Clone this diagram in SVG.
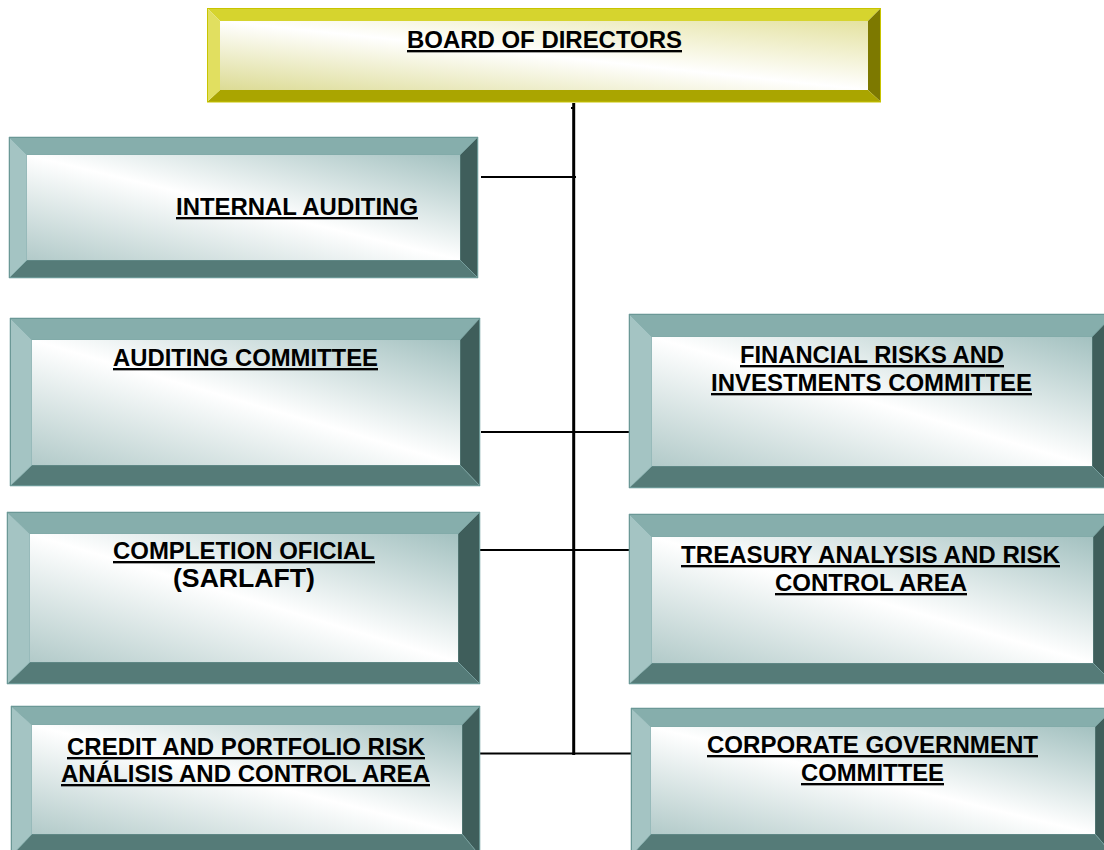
<svg xmlns="http://www.w3.org/2000/svg" width="1104" height="850" viewBox="0 0 1104 850">
<style>
.t{fill:#86aeac}.l{fill:#a4c4c3}.r{fill:#3f5e5b}.b{fill:#557b78}
.bev polygon{stroke:#7aa6a4;stroke-width:0.6}
.face{fill:url(#gT)}
.edge{fill:none;stroke:#6b9896;stroke-width:1}
.yt{fill:#d6d42e}.yl{fill:#e1df60}.yr{fill:#7d7900}.yb{fill:#aaa500}
.yface{fill:url(#gY)}
.yedge{fill:none;stroke:#c8c400;stroke-width:1}
text{font-family:"Liberation Sans",Arial,sans-serif;font-weight:bold;font-size:23.5px;fill:#000;text-anchor:middle}
.u{text-decoration:underline}
.conn line{stroke:#000}
</style>
<defs>
<linearGradient id="gT" x1="0" y1="1" x2="1" y2="0">
<stop offset="0" stop-color="#b2cac9"/>
<stop offset="0.5" stop-color="#ffffff"/>
<stop offset="1" stop-color="#a3c1c0"/>
</linearGradient>
<linearGradient id="gY" x1="0" y1="1" x2="1" y2="0">
<stop offset="0" stop-color="#dcdb94"/>
<stop offset="0.5" stop-color="#ffffff"/>
<stop offset="1" stop-color="#e4e2a0"/>
</linearGradient>
</defs>
<rect width="1104" height="850" fill="#fff"/>

<g id="connectors" class="conn">
<line x1="573.7" y1="103" x2="573.7" y2="755" stroke-width="3"/>
<line x1="481" y1="177" x2="576" y2="177" stroke-width="2"/>
<line x1="481" y1="432" x2="629" y2="432" stroke-width="2"/>
<line x1="480" y1="550" x2="629" y2="550" stroke-width="2"/>
<line x1="480" y1="753.5" x2="631" y2="753.5" stroke-width="2"/>
<line x1="571" y1="108" x2="574" y2="108" stroke-width="2"/>
</g>

<g id="board">
<polygon class="yt" points="207,8 881,8 868,21 220,21"/>
<polygon class="yr" points="881,8 881,102 868,90 868,21"/>
<polygon class="yb" points="207,102 881,102 868,90 220,90"/>
<polygon class="yl" points="207,8 220,21 220,90 207,102"/>
<rect class="yface" x="220" y="21" width="648" height="69"/>
<rect class="yedge" x="207.5" y="8.5" width="673" height="93.5"/>
<text class="u" x="544.5" y="48" textLength="275" lengthAdjust="spacingAndGlyphs">BOARD OF DIRECTORS</text>
</g>

<g id="internal-auditing" class="bev">
<polygon class="t" points="9,137 478,137 460,155 27,155"/>
<polygon class="r" points="478,137 478,278 460,260 460,155"/>
<polygon class="b" points="9,278 478,278 460,260 27,260"/>
<polygon class="l" points="9,137 27,155 27,260 9,278"/>
<rect class="face" x="27" y="155" width="433" height="105"/>
<rect class="edge" x="9.5" y="137.5" width="468" height="140"/>
<text class="u" x="297" y="215" textLength="242" lengthAdjust="spacingAndGlyphs">INTERNAL AUDITING</text>
</g>

<g id="auditing-committee" class="bev">
<polygon class="t" points="10,318 480,318 460,340 32,340"/>
<polygon class="r" points="480,318 480,486 460,465 460,340"/>
<polygon class="b" points="10,486 480,486 460,465 32,465"/>
<polygon class="l" points="10,318 32,340 32,465 10,486"/>
<rect class="face" x="32" y="340" width="428" height="125"/>
<rect class="edge" x="10.5" y="318.5" width="469" height="167"/>
<text class="u" x="245.5" y="366" textLength="265" lengthAdjust="spacingAndGlyphs">AUDITING COMMITTEE</text>
</g>

<g id="financial-risks" class="bev">
<polygon class="t" points="629,314 1114,314 1092,337 652,337"/>
<polygon class="r" points="1114,314 1114,488 1092,466 1092,337"/>
<polygon class="b" points="629,488 1114,488 1092,466 652,466"/>
<polygon class="l" points="629,314 652,337 652,466 629,488"/>
<rect class="face" x="652" y="337" width="440" height="129"/>
<rect class="edge" x="629.5" y="314.5" width="484" height="173"/>
<text class="u" x="872" y="363" textLength="264" lengthAdjust="spacingAndGlyphs">FINANCIAL RISKS AND</text>
<text class="u" x="871.5" y="391" textLength="321" lengthAdjust="spacingAndGlyphs">INVESTMENTS COMMITTEE</text>
</g>

<g id="completion-oficial" class="bev">
<polygon class="t" points="7,512 480,512 458,534 30,534"/>
<polygon class="r" points="480,512 480,684 458,662 458,534"/>
<polygon class="b" points="7,684 480,684 458,662 30,662"/>
<polygon class="l" points="7,512 30,534 30,662 7,684"/>
<rect class="face" x="30" y="534" width="428" height="128"/>
<rect class="edge" x="7.5" y="512.5" width="472" height="171"/>
<text class="u" x="244" y="559" textLength="262" lengthAdjust="spacingAndGlyphs">COMPLETION OFICIAL</text>
<text x="244" y="587" textLength="142" lengthAdjust="spacingAndGlyphs" style="font-size:25px">(SARLAFT)</text>
</g>

<g id="treasury" class="bev">
<polygon class="t" points="629,514 1114,514 1093,537 652,537"/>
<polygon class="r" points="1114,514 1114,684 1093,663 1093,537"/>
<polygon class="b" points="629,684 1114,684 1093,663 652,663"/>
<polygon class="l" points="629,514 652,537 652,663 629,684"/>
<rect class="face" x="652" y="537" width="441" height="126"/>
<rect class="edge" x="629.5" y="514.5" width="484" height="169"/>
<text class="u" x="870.5" y="563" textLength="379" lengthAdjust="spacingAndGlyphs">TREASURY ANALYSIS AND RISK</text>
<text class="u" x="871" y="591" textLength="192" lengthAdjust="spacingAndGlyphs">CONTROL AREA</text>
</g>

<g id="credit-portfolio" class="bev">
<polygon class="t" points="11,706 480,706 462,725 32,725"/>
<polygon class="r" points="480,706 480,856 462,834 462,725"/>
<polygon class="b" points="11,856 480,856 462,834 32,834"/>
<polygon class="l" points="11,706 32,725 32,834 11,856"/>
<rect class="face" x="32" y="725" width="430" height="109"/>
<rect class="edge" x="11.5" y="706.5" width="468" height="149"/>
<text class="u" x="246" y="755" textLength="358" lengthAdjust="spacingAndGlyphs">CREDIT AND PORTFOLIO RISK</text>
<text class="u" x="245.5" y="782" textLength="369" lengthAdjust="spacingAndGlyphs">ANÁLISIS AND CONTROL AREA</text>
</g>

<g id="corporate-government" class="bev">
<polygon class="t" points="631,708 1114,708 1095,727 651,727"/>
<polygon class="r" points="1114,708 1114,856 1095,834 1095,727"/>
<polygon class="b" points="631,856 1114,856 1095,834 651,834"/>
<polygon class="l" points="631,708 651,727 651,834 631,856"/>
<rect class="face" x="651" y="727" width="444" height="107"/>
<rect class="edge" x="631.5" y="708.5" width="482" height="147"/>
<text class="u" x="872.5" y="753" textLength="331" lengthAdjust="spacingAndGlyphs">CORPORATE GOVERNMENT</text>
<text class="u" x="872.5" y="781" textLength="143" lengthAdjust="spacingAndGlyphs">COMMITTEE</text>
</g>
</svg>
